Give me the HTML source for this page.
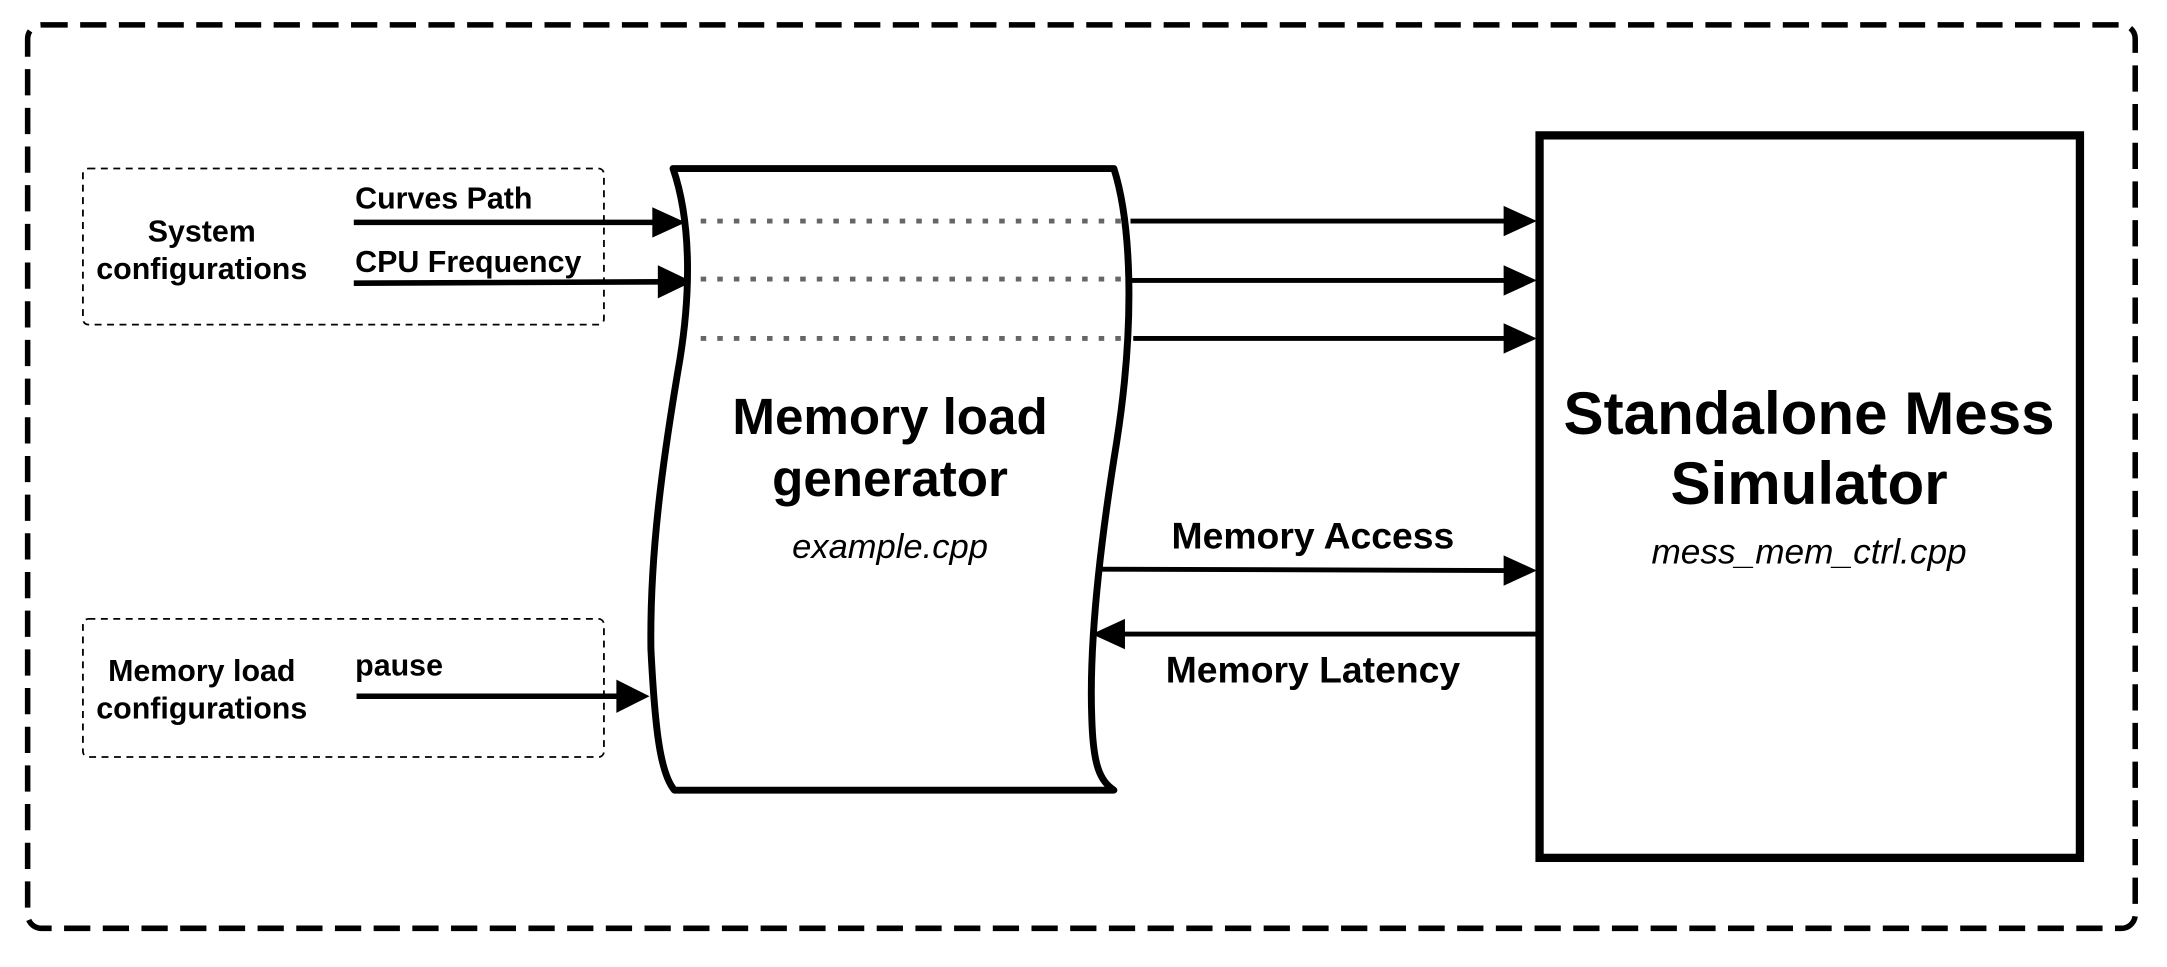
<!DOCTYPE html>
<html><head><meta charset="utf-8"><style>
html,body{margin:0;padding:0;background:#fff;}
svg{display:block;}
text{font-family:"Liberation Sans",Arial,sans-serif;fill:#000;}
</style></head><body>
<svg width="2167" height="967" viewBox="0 0 1568 700" preserveAspectRatio="none" xmlns="http://www.w3.org/2000/svg">
<rect x="20" y="18" width="1525" height="654" rx="10" fill="none" stroke="#000" stroke-width="4" stroke-dasharray="19 9"/>
<rect x="60" y="122" width="377" height="113" rx="4" fill="none" stroke="#000" stroke-width="1.3" stroke-dasharray="5 4"/>
<rect x="60" y="448" width="377" height="100" rx="4" fill="none" stroke="#000" stroke-width="1.3" stroke-dasharray="5 4"/>
<g font-weight="bold" font-size="22" text-anchor="middle">
<text x="146" y="175">System</text>
<text x="146" y="202">configurations</text>
<text x="146" y="493">Memory load</text>
<text x="146" y="520">configurations</text>
</g>
<g font-weight="bold" font-size="22">
<text x="257" y="151">Curves Path</text>
<text x="257" y="197">CPU Frequency</text>
<text x="257" y="489">pause</text>
</g>
<g stroke="#000" stroke-width="4" fill="none">
<line x1="256" y1="161" x2="475" y2="161"/>
<line x1="256" y1="205" x2="480" y2="204"/>
<line x1="258" y1="504" x2="450" y2="504"/>
</g>
<g fill="#000">
<polygon points="472,150 496,161 472,172"/>
<polygon points="476,192 501,204 476,216"/>
<polygon points="446,492 470,504 446,516"/>
</g>
<path d="M487,122 L806,122 C818,160 822,230 808,320 C795,400 788,470 790,520 C791,555 796,565 806,572 L488,572 C478,560 474,530 471,470 C470,400 480,330 492,260 C500,210 500,160 487,122 Z" fill="#fff" stroke="#000" stroke-width="5" stroke-linejoin="round"/>
<g stroke="#666" stroke-width="3.5" stroke-dasharray="4 8">
<line x1="507" y1="160" x2="812" y2="160"/>
<line x1="507" y1="202" x2="812" y2="202"/>
<line x1="507" y1="245" x2="812" y2="245"/>
</g>
<g stroke="#000" stroke-width="3.5" fill="none">
<line x1="818" y1="160" x2="1092" y2="160"/>
<line x1="818" y1="203" x2="1092" y2="203"/>
<line x1="820" y1="245" x2="1092" y2="245"/>
<line x1="795" y1="412" x2="1092" y2="413"/>
<line x1="810" y1="459" x2="1112" y2="459"/>
</g>
<g fill="#000">
<polygon points="1088,149 1112,160 1088,171"/>
<polygon points="1088,192 1112,203 1088,214"/>
<polygon points="1088,234 1112,245 1088,256"/>
<polygon points="1088,402 1112,413 1088,424"/>
<polygon points="814,448 790,459 814,470"/>
</g>
<rect x="1114" y="98" width="391" height="523" fill="#fff" stroke="#000" stroke-width="6"/>
<g text-anchor="middle">
<text x="644" y="314" font-size="37" font-weight="bold">Memory load</text>
<text x="644" y="359" font-size="37" font-weight="bold">generator</text>
<text x="644" y="404" font-size="25" font-style="italic">example.cpp</text>
<text x="1309" y="314" font-size="43.5" font-weight="bold">Standalone Mess</text>
<text x="1309" y="365" font-size="43.5" font-weight="bold">Simulator</text>
<text x="1309" y="408" font-size="25.5" font-style="italic">mess_mem_ctrl.cpp</text>
<text x="950" y="397" font-size="27" font-weight="bold">Memory Access</text>
<text x="950" y="494" font-size="27" font-weight="bold">Memory Latency</text>
</g>
</svg>
</body></html>
